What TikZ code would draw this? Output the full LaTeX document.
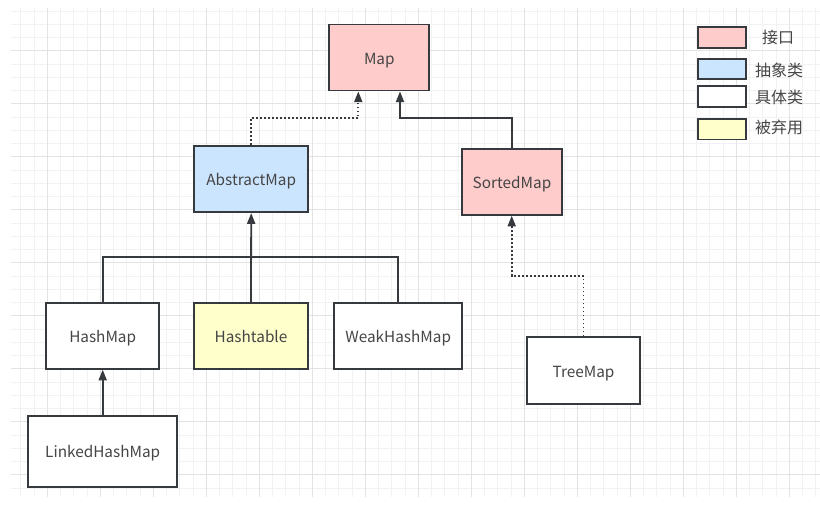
\documentclass[tikz,border=0pt]{standalone}
\usepackage{fontspec}
\setmainfont{Noto Sans CJK SC}
\usetikzlibrary{arrows.meta}
\definecolor{pinkf}{HTML}{FFCCCC}
\definecolor{bluef}{HTML}{CCE5FF}
\definecolor{yellowf}{HTML}{FFFFCC}
\definecolor{bord}{HTML}{36393D}
\definecolor{txt}{HTML}{454545}
\definecolor{gridminor}{HTML}{F2F2F2}
\definecolor{gridmajor}{HTML}{E3E3E3}
\tikzset{
  cls/.style={draw=bord, line width=1.35pt, fill=white, minimum height=49.5pt,
    inner sep=0pt, text=txt, font=\fontsize{11.5}{13}\selectfont,
    text height=11.8pt, text depth=2pt},
  legbox/.style={draw=bord, line width=1.35pt, minimum width=35.5pt, minimum height=15.3pt, inner sep=0pt},
  legtxt/.style={text=txt, font=\fontsize{12}{14}\selectfont, inner sep=0pt},
  conn/.style={draw=bord, line width=1.35pt},
  dotconn/.style={draw=bord, line width=1.35pt, dash pattern=on 1.4pt off 1.6pt},
  tip/.style={-{Triangle[length=8pt,width=6pt]}},
  gminor/.style={draw=gridminor, line width=0.6pt},
  gmajor/.style={draw=gridmajor, line width=0.7pt}
}
\begin{document}
\begin{tikzpicture}[x=0.75pt,y=-0.75pt]
\useasboundingbox (0,0) rectangle (820,510);
\fill[white] (0,0) rectangle (820,510);
% grid
\begin{scope}
\clip (11,8) rectangle (820,497);
\foreach \i in {0,...,61} {\draw[gminor] ({7.58+13.25*\i},8) -- ++(0,489);}
\foreach \i in {0,...,37} {\draw[gminor] (11,{10.95+13.25*\i}) -- ++(809,0);}
\foreach \i in {0,...,15} {\draw[gmajor] ({47.33+53*\i},8) -- ++(0,489);}
\foreach \i in {0,...,9} {\draw[gmajor] (11,{50.7+53*\i}) -- ++(809,0);}
\end{scope}
% classes
\node[cls, fill=pinkf, minimum width=75pt] (map) at (379.3,57.5) {Map};
\node[cls, fill=bluef, minimum width=85.5pt] (am) at (251.2,179.2) {AbstractMap};
\node[cls, fill=pinkf, minimum width=74.5pt] (sm) at (512,181.8) {SortedMap};
\node[cls, minimum width=85pt] (hm) at (102.7,335.8) {HashMap};
\node[cls, fill=yellowf, minimum width=85pt] (ht) at (251,335.8) {Hashtable};
\node[cls, minimum width=96.2pt] (wm) at (398.2,335.8) {WeakHashMap};
\node[cls, minimum width=111.5pt, minimum height=53.3pt] (lhm) at (102.7,451.2) {LinkedHashMap};
\node[cls, minimum width=85.2pt, minimum height=50pt] (tm) at (583.5,370.7) {TreeMap};
% junction coordinates
\coordinate (j1) at (358.3,118.3);
\coordinate (j2) at (400,118.3);
\coordinate (j3) at (251,257.3);
\coordinate (j4) at (511.7,276);
% connectors
\draw[dotconn, tip] (am.north) |- (j1) -- (j1 |- map.south);
\draw[conn, tip] (sm.north) |- (j2) -- (j2 |- map.south);
\draw[conn] (hm.north) |- (j3) -| (wm.north);
\draw[conn, tip] (ht.north) -- (am.south);
\draw[conn, tip] (lhm.north) -- (hm.south);
\draw[dotconn, tip] (tm.north) |- (j4) -- (j4 |- sm.south);
% legend
\node[legbox, fill=pinkf] (l1) at (722,37.5) {};
\node[legbox, fill=bluef] (l2) at (722,69.2) {};
\node[legbox, fill=white] (l3) at (722,96.5) {};
\node[legbox, fill=yellowf] (l4) at (722,129.2) {};
\node[legtxt] (t1) at (778,37.5) {接口};
\node[legtxt] (t2) at (779,70) {抽象类};
\node[legtxt] (t3) at (779,97.3) {具体类};
\node[legtxt] (t4) at (779,127.7) {被弃用};
\end{tikzpicture}
\end{document}
